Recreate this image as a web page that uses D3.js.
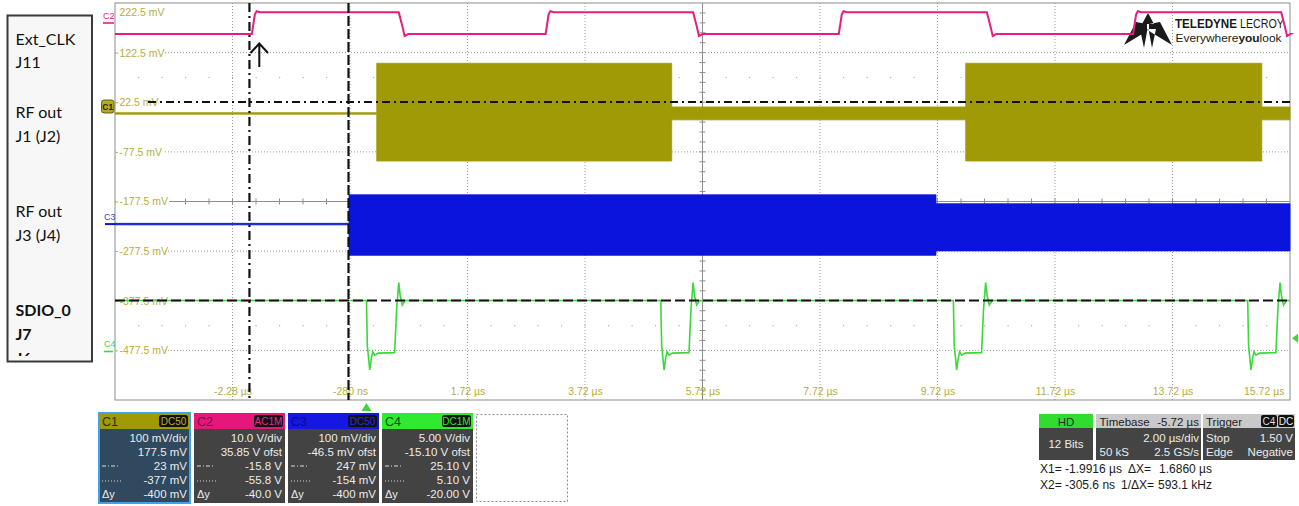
<!DOCTYPE html>
<html>
<head>
<meta charset="utf-8">
<script src="https://cdn.jsdelivr.net/npm/d3@7"></script>
<style>
  html, body { margin: 0; padding: 0; background: #fff; }
  svg { display: block; }
</style>
</head>
<body>
<svg id="scope" width="1299" height="506"></svg>
<script>
// ---------- axis ticks ----------
const timeTicks = [-2.28, -0.28, 1.72, 3.72, 5.72, 7.72, 9.72, 11.72, 13.72, 15.72];           // µs
const timeTickLabels = ['-2.28 µs', '-280 ns', '1.72 µs', '3.72 µs', '5.72 µs', '7.72 µs',
                        '9.72 µs', '11.72 µs', '13.72 µs', '15.72 µs'];
const levelTicks = [222.5, 122.5, 22.5, -77.5, -177.5, -277.5, -377.5, -477.5];              // mV
const levelTickLabels = ['222.5 mV', '122.5 mV', '22.5 mV', '-77.5 mV', '-177.5 mV',
                         '-277.5 mV', '-377.5 mV', '-477.5 mV'];
const dottedLevels = [122.5, -77.5, -277.5, -477.5];
const halfDivDotLevels = [72.5, -427.5];

// ---------- C2 : Ext_CLK (edge times in µs, levels in display mV) ----------
const clkRiseTimes = [-1.95, 3.05, 8.04, 13.05];
const clkFallTimes = [0.55, 5.56, 10.56, 15.57];
const clkLow = 160;
const clkHigh = 204;
const clkRiseShape = [[0, 160], [0.05, 199], [0.08, 206], [0.14, 204]];
const clkFallShape = [[0, 204], [0.06, 176], [0.10, 156], [0.16, 160]];

// ---------- C1 : RF out J1 (J2) envelope segments ----------
const rf1Start = [-4.28, 0.175, 5.196, 10.20, 15.24];
const rf1End   = [0.175, 5.196, 10.20, 15.24, 15.72];
const rf1Top    = [1.5, 101, 13, 101, 13];
const rf1Bottom = [-1.5, -96, -13, -96, -13];

// ---------- C3 : RF out J3 (J4) envelope segments ----------
const rf3Start = [-4.28, -0.297, 9.694];
const rf3End   = [-0.297, 9.694, 15.72];
const rf3Top    = [-221.5, -164, -182];
const rf3Bottom = [-224.5, -286, -277];

// ---------- C4 : SDIO_0 J7 ----------
const sdioBase = -377;
const sdioPulseTimes = [0.0, 5.01, 9.99, 15.0];
const sdioPulseShape = [[0, -377], [0.015, -468], [0.056, -517], [0.085, -492], [0.107, -480],
                        [0.14, -487], [0.2, -483], [0.48, -482], [0.515, -392], [0.55, -341],
                        [0.575, -368], [0.61, -386], [0.66, -377]];

// ---------- cursors ----------
const cursorX1 = -1.9916;     // µs, dash-dot
const cursorX2 = -0.3056;     // µs, dashed
const cursorY1 = 23;          // mV, dash-dot
const cursorY2 = -377;        // mV, dashed
const triggerTime = 0;
const triggerLevel = -453;

// ---------- channel descriptor panels ----------
const chanNames    = ['C1', 'C2', 'C3', 'C4'];
const chanCoupling = ['DC50', 'AC1M', 'DC50', 'DC1M'];
const chanScale    = ['100 mV/div', '10.0 V/div', '100 mV/div', '5.00 V/div'];
const chanOffset   = ['177.5 mV', '35.85 V ofst', '-46.5 mV ofst', '-15.10 V ofst'];
const chanCursor1  = ['23 mV', '-15.8 V', '247 mV', '25.10 V'];
const chanCursor2  = ['-377 mV', '-55.8 V', '-154 mV', '5.10 V'];
const chanDeltaY   = ['-400 mV', '-40.0 V', '-400 mV', '-20.00 V'];

const sideLabels = [
  { text: 'Ext_CLK', y: 45, bold: false }, { text: 'J11', y: 68, bold: false },
  { text: 'RF out', y: 118, bold: false }, { text: 'J1 (J2)', y: 142, bold: false },
  { text: 'RF out', y: 217, bold: false }, { text: 'J3 (J4)', y: 241, bold: false },
  { text: 'SDIO_0', y: 316, bold: true }, { text: 'J7', y: 340, bold: true },
  { text: 'J6', y: 364, bold: true }
];

// ---------- colours ----------
const colC1 = '#9f9a06', colC2 = '#e81c7e', colC3 = '#0a14dc', colC4 = '#3ad83a';
const labelCol = '#b7ad3e';
const gridCol = '#9a9a9a';
const uiFont = "'Liberation Sans', Arial, sans-serif";

const svg = d3.select('#scope');
const x = d3.scaleLinear().domain([-4.28, 15.72]).range([115, 1290]);
const y = d3.scaleLinear().domain([222.5, -577.5]).range([3, 400]);
const [x0, x1] = x.range();
const [y0, y1] = y.range();
const minorX = (x1 - x0) / 50;
const minorY = (y1 - y0) / 40;

// ---------- grid ----------
const grid = svg.append('g');
grid.selectAll('line.vgrid')
  .data(timeTicks.filter(t => t !== 5.72 && t !== 15.72))
  .join('line')
  .attr('x1', d => x(d)).attr('x2', d => x(d))
  .attr('y1', y0).attr('y2', y1)
  .attr('stroke', gridCol).attr('stroke-width', 1).attr('stroke-dasharray', '1,2');

grid.selectAll('line.hdot')
  .data(dottedLevels)
  .join('line')
  .attr('x1', 165).attr('x2', x1)
  .attr('y1', d => y(d)).attr('y2', d => y(d))
  .attr('stroke', gridCol).attr('stroke-width', 1).attr('stroke-dasharray', '1,2');

// sparse dots at half divisions
halfDivDotLevels.forEach(lv => {
  grid.append('g').selectAll('rect')
    .data(d3.range(1, 50))
    .join('rect')
    .attr('x', k => x0 + k * minorX - 0.5).attr('y', y(lv) - 0.5)
    .attr('width', 1.2).attr('height', 1.2).attr('fill', '#b0b0b0');
});

// centre cross with minor ticks
const cx = x(5.72), cy = y(-177.5);
grid.append('line').attr('x1', cx).attr('x2', cx).attr('y1', y0).attr('y2', y1)
  .attr('stroke', '#8e8e8e').attr('stroke-width', 1);
grid.selectAll('line.vtick').data(d3.range(1, 40)).join('line')
  .attr('x1', cx - 3).attr('x2', cx + 3)
  .attr('y1', k => y0 + k * minorY).attr('y2', k => y0 + k * minorY)
  .attr('stroke', '#8e8e8e');
grid.append('line').attr('x1', 169).attr('x2', x1).attr('y1', cy).attr('y2', cy)
  .attr('stroke', '#8e8e8e').attr('stroke-width', 1.2);
grid.selectAll('line.htick').data(d3.range(3, 50)).join('line')
  .attr('x1', k => x0 + k * minorX).attr('x2', k => x0 + k * minorX)
  .attr('y1', cy - 3).attr('y2', cy + 3)
  .attr('stroke', '#8e8e8e');

// frame
grid.append('rect').attr('x', x0).attr('y', y0).attr('width', x1 - x0).attr('height', y1 - y0)
  .attr('fill', 'none').attr('stroke', '#8c8c8c').attr('stroke-width', 1);

// ---------- level labels (inside the left edge) ----------
const levelAxis = d3.axisRight(y)
  .tickValues(levelTicks)
  .tickFormat((d, i) => levelTickLabels[i])
  .tickSize(3).tickPadding(1.5);
const gLevel = svg.append('g').attr('transform', `translate(${x0},0)`).call(levelAxis);
gLevel.select('.domain').remove();
gLevel.selectAll('line').attr('stroke', labelCol);
gLevel.selectAll('text').attr('font-family', uiFont).attr('font-size', 10.5).attr('fill', labelCol);
gLevel.selectAll('.tick').filter(d => d === 222.5)
  .attr('transform', `translate(0,${y(222.5) + 10})`)
  .select('line').remove();

// ---------- time labels ----------
const timeAxis = d3.axisBottom(x)
  .tickValues(timeTicks)
  .tickFormat((d, i) => timeTickLabels[i])
  .tickSize(0).tickPadding(0);
const gTime = svg.append('g').attr('transform', 'translate(0,387.5)').call(timeAxis);
gTime.select('.domain').remove();
gTime.selectAll('text').attr('font-family', uiFont).attr('font-size', 10.5).attr('fill', labelCol);
gTime.selectAll('.tick').filter(d => d === 15.72).select('text')
  .attr('text-anchor', 'end').attr('x', -6);

// ---------- traces ----------
const line = d3.line().x(d => x(d[0])).y(d => y(d[1]));
const area = d3.area().x(d => x(d.t)).y0(d => y(d.bottom)).y1(d => y(d.top));

function envelope(starts, ends, tops, bottoms) {
  const pts = [];
  starts.forEach((s, i) => {
    pts.push({ t: s, top: tops[i], bottom: bottoms[i] });
    pts.push({ t: ends[i], top: tops[i], bottom: bottoms[i] });
  });
  return pts;
}

// C1
svg.append('path')
  .datum(envelope(rf1Start, rf1End, rf1Top, rf1Bottom))
  .attr('d', area).attr('fill', colC1).attr('stroke', colC1).attr('stroke-width', 0.8);

// C3
svg.append('path')
  .datum(envelope(rf3Start, rf3End, rf3Top, rf3Bottom))
  .attr('d', area).attr('fill', colC3).attr('stroke', colC3).attr('stroke-width', 0.8);

// ---------- logo (drawn beneath the clock trace) ----------
const logo = svg.append('g').attr('font-family', uiFont).attr('fill', '#1a1a1a');
logo.append('path').attr('d',
  'M1124,45 L1136,22 L1147,24 L1147,31 Z ' +
  'M1172,45 L1160,22 L1149,24 L1149,31 Z ' +
  'M1142,24 L1148,13 L1154,24 Z ' +
  'M1140,29 L1147.5,29 L1144,48 Z ' +
  'M1148.5,29 L1156,29 L1152,48 Z');
logo.append('text').attr('x', 1175).attr('y', 28).attr('font-size', 13).attr('font-weight', 'bold')
  .attr('textLength', 62).attr('lengthAdjust', 'spacingAndGlyphs').text('TELEDYNE');
logo.append('text').attr('x', 1240).attr('y', 28).attr('font-size', 13)
  .attr('textLength', 44).attr('lengthAdjust', 'spacingAndGlyphs').text('LECROY');
logo.append('text').attr('x', 1175.5).attr('y', 41.5).attr('font-size', 11.5)
  .attr('textLength', 106).attr('lengthAdjust', 'spacingAndGlyphs')
  .call(t => {
    t.append('tspan').text('Everywhere');
    t.append('tspan').attr('font-weight', 'bold').text('you');
    t.append('tspan').text('look');
  });

// C2 clock
const clkPts = [[x.domain()[0], clkLow]];
const clkEdges = clkRiseTimes.map(t => ({ t, shape: clkRiseShape }))
  .concat(clkFallTimes.map(t => ({ t, shape: clkFallShape })))
  .sort((a, b) => a.t - b.t);
clkEdges.forEach(e => e.shape.forEach(p => clkPts.push([e.t + p[0], p[1]])));
clkPts.push([x.domain()[1], clkLow]);
svg.append('path').datum(clkPts).attr('d', line)
  .attr('fill', 'none').attr('stroke', colC2).attr('stroke-width', 2);

// C4 SDIO
const sdioPts = [[x.domain()[0], sdioBase]];
sdioPulseTimes.forEach(t0 => sdioPulseShape.forEach(p => sdioPts.push([t0 + p[0], p[1]])));
sdioPts.push([x.domain()[1], sdioBase]);
svg.append('path').datum(sdioPts).attr('d', line)
  .attr('fill', 'none').attr('stroke', colC4).attr('stroke-width', 1.6);

// ---------- cursors ----------
const cur = svg.append('g').attr('stroke', '#111').attr('stroke-width', 2.2);
cur.append('line').attr('x1', 148).attr('x2', x1).attr('y1', y(cursorY1)).attr('y2', y(cursorY1))
  .attr('stroke-width', 1.8).attr('stroke-dasharray', '8,4,2,4');
cur.append('line').attr('x1', x0).attr('x2', x1).attr('y1', y(cursorY2)).attr('y2', y(cursorY2))
  .attr('stroke-dasharray', '10,4');
cur.append('line').attr('x1', x(cursorX1)).attr('x2', x(cursorX1)).attr('y1', y0).attr('y2', y1)
  .attr('stroke-dasharray', '9,4,2,4');
cur.append('line').attr('x1', x(cursorX2)).attr('x2', x(cursorX2)).attr('y1', y0).attr('y2', y1)
  .attr('stroke-dasharray', '10,3');

// ---------- channel markers on the left edge ----------
const mk = svg.append('g').attr('font-family', uiFont);
mk.append('text').attr('x', 103).attr('y', 19).attr('font-size', 9).attr('fill', colC2).text('C2');
mk.append('line').attr('x1', 103).attr('x2', 114).attr('y1', 23).attr('y2', 23)
  .attr('stroke', colC2).attr('stroke-width', 1.6);
mk.append('rect').attr('x', 101.5).attr('y', 100).attr('width', 12.5).attr('height', 13).attr('rx', 2.5)
  .attr('fill', '#b3ad1c').attr('stroke', '#4a4600').attr('stroke-width', 0.8);
mk.append('text').attr('x', 107.7).attr('y', 110).attr('font-size', 8.5).attr('font-weight', 'bold')
  .attr('text-anchor', 'middle').attr('fill', '#1e1c00').text('C1');
mk.append('text').attr('x', 104).attr('y', 220).attr('font-size', 9).attr('fill', '#3b45e0').text('C3');
mk.append('line').attr('x1', 105).attr('x2', 115).attr('y1', y(-223)).attr('y2', y(-223))
  .attr('stroke', colC3).attr('stroke-width', 2);
mk.append('text').attr('x', 104).attr('y', 347).attr('font-size', 9).attr('fill', colC4).text('C4');
mk.append('line').attr('x1', 104).attr('x2', 113).attr('y1', 351.5).attr('y2', 351.5)
  .attr('stroke', colC4).attr('stroke-width', 1.6);

// trigger markers
const tx = x(triggerTime);
svg.append('path').attr('d', `M${tx - 5},411 L${tx + 5},411 L${tx},403 Z`).attr('fill', colC4);
const ty = y(triggerLevel);
svg.append('path').attr('d', `M1292,${ty} L1298,${ty - 4.5} L1298,${ty + 4.5} Z`).attr('fill', colC4);

// ---------- edge annotation arrow ----------
svg.append('path').attr('d', 'M259.3,67 L259.3,44 M250.5,53 L259.3,43.5 L268,53')
  .attr('fill', 'none').attr('stroke', '#111').attr('stroke-width', 2);

// ---------- signal name box ----------
svg.append('defs').append('clipPath').attr('id', 'boxClip')
  .append('rect').attr('x', 8).attr('y', 16).attr('width', 83).attr('height', 340);
svg.append('rect').attr('x', 7.5).attr('y', 15.5).attr('width', 84.5).attr('height', 346)
  .attr('fill', '#f7f7f7').attr('stroke', '#3a3a3a').attr('stroke-width', 2);
svg.append('g').attr('clip-path', 'url(#boxClip)')
  .selectAll('text').data(sideLabels).join('text')
  .attr('x', 15.5).attr('y', d => d.y)
  .attr('font-family', "Lato, 'Open Sans', sans-serif").attr('font-size', 16)
  .attr('font-weight', d => d.bold ? 'bold' : 'normal')
  .attr('fill', '#111').text(d => d.text);

// ---------- channel descriptor panels ----------
const panelX = [99, 194, 288, 382];
const panelW = 91;
const headCol = [colC1, '#e5177a', '#1717e3', '#2fea2f'];
const headText = ['#2e2b00', '#7a0a3e', '#0a0a8a', '#0c4a0c'];
const badgeText = ['#b9b21d', '#ec2a86', '#2a2ae8', '#33e033'];
const rowY = [442, 455.5, 470, 484, 498];
const panels = svg.append('g').attr('font-family', uiFont);
chanNames.forEach((name, i) => {
  const px = panelX[i];
  const g = panels.append('g');
  g.append('rect').attr('x', px).attr('y', 429).attr('width', panelW).attr('height', 74)
    .attr('fill', i === 0 ? '#30495f' : '#434343');
  g.append('rect').attr('x', px).attr('y', 413).attr('width', panelW).attr('height', 16)
    .attr('fill', headCol[i]);
  g.append('text').attr('x', px + 3).attr('y', 426).attr('font-size', 12.5)
    .attr('fill', headText[i]).text(name);
  g.append('rect').attr('x', px + panelW - 31).attr('y', 415).attr('width', 29).attr('height', 12)
    .attr('rx', 2.5).attr('fill', '#111');
  g.append('text').attr('x', px + panelW - 16.5).attr('y', 424.7).attr('font-size', 10)
    .attr('text-anchor', 'middle').attr('fill', badgeText[i]).text(chanCoupling[i]);
  const vals = [chanScale[i], chanOffset[i], chanCursor1[i], chanCursor2[i], chanDeltaY[i]];
  vals.forEach((v, r) => {
    g.append('text').attr('x', px + panelW - 3).attr('y', rowY[r]).attr('font-size', 11.5)
      .attr('text-anchor', 'end').attr('fill', '#ececec').text(v);
  });
  g.append('line').attr('x1', px + 3).attr('x2', px + 19).attr('y1', rowY[2] - 4).attr('y2', rowY[2] - 4)
    .attr('stroke', '#dcdcdc').attr('stroke-dasharray', '4,2,1,2');
  g.append('line').attr('x1', px + 3).attr('x2', px + 24).attr('y1', rowY[3] - 3).attr('y2', rowY[3] - 3)
    .attr('stroke', '#dcdcdc').attr('stroke-dasharray', '1,2');
  g.append('text').attr('x', px + 3).attr('y', rowY[4]).attr('font-size', 11)
    .attr('fill', '#ececec').text('Δy');
  if (i === 0) {
    g.append('rect').attr('x', px).attr('y', 413).attr('width', panelW).attr('height', 90)
      .attr('fill', 'none').attr('stroke', '#3fa2ea').attr('stroke-width', 2);
  }
});
panels.append('rect').attr('x', 476.5).attr('y', 414.5).attr('width', 91).attr('height', 87)
  .attr('fill', 'none').attr('stroke', '#8a8a8a').attr('stroke-dasharray', '2,2');

// ---------- acquisition panels ----------
const acq = svg.append('g').attr('font-family', uiFont).attr('font-size', 11.5);
acq.append('rect').attr('x', 1039).attr('y', 414).attr('width', 54).attr('height', 14).attr('fill', '#2fdc2f');
acq.append('text').attr('x', 1066).attr('y', 425.5).attr('text-anchor', 'middle').attr('fill', '#163616').text('HD');
acq.append('rect').attr('x', 1039).attr('y', 428).attr('width', 54).attr('height', 32).attr('fill', '#444');
acq.append('text').attr('x', 1066).attr('y', 447.5).attr('text-anchor', 'middle').attr('fill', '#ececec').text('12 Bits');

acq.append('rect').attr('x', 1096).attr('y', 414).attr('width', 105).attr('height', 14).attr('fill', '#c9c9c9');
acq.append('text').attr('x', 1099.5).attr('y', 425.5).attr('fill', '#222').text('Timebase');
acq.append('text').attr('x', 1199).attr('y', 425.5).attr('text-anchor', 'end').attr('fill', '#222').text('-5.72 µs');
acq.append('rect').attr('x', 1096).attr('y', 428).attr('width', 105).attr('height', 32).attr('fill', '#444');
acq.append('text').attr('x', 1199).attr('y', 441.5).attr('text-anchor', 'end').attr('fill', '#ececec').text('2.00 µs/div');
acq.append('text').attr('x', 1099.5).attr('y', 455.5).attr('fill', '#ececec').text('50 kS');
acq.append('text').attr('x', 1199).attr('y', 455.5).attr('text-anchor', 'end').attr('fill', '#ececec').text('2.5 GS/s');

acq.append('rect').attr('x', 1203).attr('y', 414).attr('width', 92).attr('height', 14).attr('fill', '#c9c9c9');
acq.append('text').attr('x', 1206).attr('y', 425.5).attr('fill', '#222').text('Trigger');
acq.append('rect').attr('x', 1261).attr('y', 415).attr('width', 16).attr('height', 12).attr('rx', 2).attr('fill', '#111');
acq.append('text').attr('x', 1269).attr('y', 424.7).attr('font-size', 10).attr('text-anchor', 'middle').attr('fill', '#dcdcdc').text('C4');
acq.append('rect').attr('x', 1278).attr('y', 415).attr('width', 16).attr('height', 12).attr('rx', 2).attr('fill', '#111');
acq.append('text').attr('x', 1286).attr('y', 424.7).attr('font-size', 10).attr('text-anchor', 'middle').attr('fill', '#f0f0f0').text('DC');
acq.append('rect').attr('x', 1203).attr('y', 428).attr('width', 92).attr('height', 32).attr('fill', '#444');
acq.append('text').attr('x', 1206).attr('y', 441.5).attr('fill', '#ececec').text('Stop');
acq.append('text').attr('x', 1293).attr('y', 441.5).attr('text-anchor', 'end').attr('fill', '#ececec').text('1.50 V');
acq.append('text').attr('x', 1206).attr('y', 455.5).attr('fill', '#ececec').text('Edge');
acq.append('text').attr('x', 1293).attr('y', 455.5).attr('text-anchor', 'end').attr('fill', '#ececec').text('Negative');

// cursor readout
const ro = svg.append('g').attr('font-family', uiFont).attr('font-size', 12).attr('fill', '#1a1a1a');
ro.append('text').attr('x', 1040).attr('y', 472.5).text('X1= -1.9916 µs');
ro.append('text').attr('x', 1128).attr('y', 472.5).text('ΔX=');
ro.append('text').attr('x', 1212).attr('y', 472.5).attr('text-anchor', 'end').text('1.6860 µs');
ro.append('text').attr('x', 1040).attr('y', 488.5).text('X2= -305.6 ns');
ro.append('text').attr('x', 1121).attr('y', 488.5).text('1/ΔX=');
ro.append('text').attr('x', 1212).attr('y', 488.5).attr('text-anchor', 'end').text('593.1 kHz');
</script>
</body>
</html>
